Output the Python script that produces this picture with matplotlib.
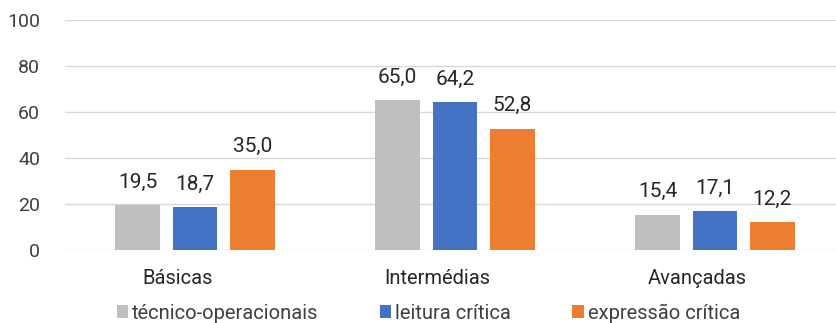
import matplotlib.pyplot as plt
import numpy as np

plt.rcParams['font.family'] = ['Roboto', 'DejaVu Sans']

categorias = ['Básicas', 'Intermédias', 'Avançadas']
series = ['técnico-operacionais', 'leitura crítica', 'expressão crítica']
tecnico = [19.5, 65.0, 15.4]
leitura = [18.7, 64.2, 17.1]
expressao = [35.0, 52.8, 12.2]
cores = ['#BFBFBF', '#4472C4', '#ED7D31']

fig = plt.figure(figsize=(8.37, 3.23), dpi=100)
ax = fig.add_axes([65 / 837, 1 - 250 / 323, 1 - 65 / 837, 230 / 323])

x = np.arange(len(categorias))
largura = 0.173
passo = 0.221
for i, (vals, nome, cor) in enumerate(zip([tecnico, leitura, expressao], series, cores)):
    barras = ax.bar(x + (i - 1) * passo, vals, largura, color=cor, label=nome, zorder=2)
    for b, v in zip(barras, vals):
        ax.annotate(f'{v:.1f}'.replace('.', ','),
                    (b.get_x() + b.get_width() / 2, v),
                    xytext=(0, 9.5), textcoords='offset points',
                    ha='center', va='bottom', fontsize=15, color='#262626')

ax.set_xlim(-0.5, -0.5 + 772 / 260)
ax.set_ylim(0, 100)
ax.set_yticks(range(0, 101, 20))
ax.yaxis.grid(True, color='#D9D9D9', lw=1, zorder=0)
ax.set_xticks(x - 0.068)
ax.set_xticklabels(categorias)
ax.tick_params(axis='both', length=0, labelsize=14, colors='#404040')
ax.tick_params(axis='x', pad=14, labelsize=14.5, labelcolor='#262626')
ax.tick_params(axis='y', pad=18)
for s in ax.spines.values():
    s.set_visible(False)

fig.legend(loc='center', bbox_to_anchor=(0.512, 1 - 313 / 323), ncol=3, frameon=False,
           fontsize=14.5, handlelength=0.55, handleheight=0.55, handletextpad=0.2,
           columnspacing=3.05, labelcolor='#404040', borderaxespad=0)

fig.savefig('out.png', dpi=100)
